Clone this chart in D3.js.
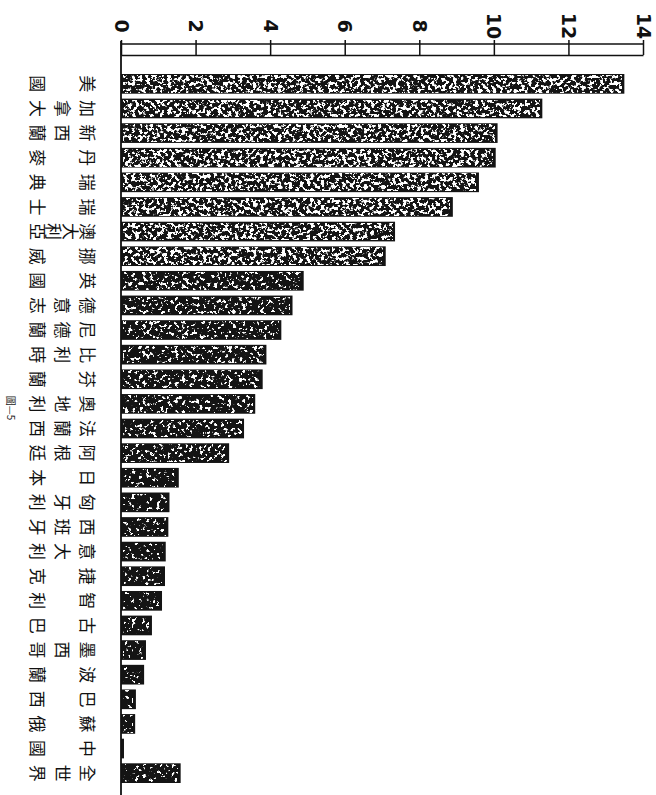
<!DOCTYPE html>
<html>
<head>
<meta charset="utf-8">
<script src="https://cdn.jsdelivr.net/npm/d3@7"></script>
<style>
  body { margin: 0; background: #fff; }
  svg { display: block; }
</style>
</head>
<body>
<svg id="chart"></svg>
<script>
// values (bars grow to the right, axis on top)
const categories = ["美國", "加拿大", "新西蘭", "丹麥", "瑞典", "瑞士", "澳大利亞", "挪威",
  "英國", "德意志", "尼德蘭", "比利時", "芬蘭", "奧地利", "法蘭西", "阿根廷",
  "日本", "匈牙利", "西班牙", "意大利", "捷克", "智利", "古巴", "墨西哥",
  "波蘭", "巴西", "蘇俄", "中國", "全世界"];
const values = [13.5, 11.3, 10.1, 10.05, 9.6, 8.9, 7.35, 7.1,
  4.9, 4.6, 4.3, 3.9, 3.8, 3.6, 3.3, 2.9,
  1.55, 1.3, 1.27, 1.2, 1.18, 1.1, 0.83, 0.67,
  0.62, 0.4, 0.38, 0.08, 1.6];
const tickValues = [0, 2, 4, 6, 8, 10, 12, 14];
const caption = "圖—5";

class RotatedBarChart {

  constructor(_config) {
    this.config = {
      parentElement: _config.parentElement,
      containerWidth: 656,
      containerHeight: 795,
      x0: 121, x1: 643,      // value axis extent
      y0: 74, y1: 783,       // first bar top / last bar bottom
      axisY: 55,             // lower ruler line
      topLineY: 44           // upper ruler line
    };
    this.initVis();
  }

  initVis() {
    let vis = this;
    const c = vis.config;

    vis.svg = d3.select(c.parentElement)
        .attr("width", c.containerWidth)
        .attr("height", c.containerHeight);

    vis.svg.append("rect")
        .attr("width", c.containerWidth)
        .attr("height", c.containerHeight)
        .attr("fill", "#fff");

    // speckle filters to imitate the printed texture of the bars
    const defs = vis.svg.append("defs");
    const speck = (id, slope, cut) => {
      const f = defs.append("filter").attr("id", id)
          .attr("x", 0).attr("y", 0).attr("width", "100%").attr("height", "100%");
      f.append("feTurbulence")
          .attr("type", "fractalNoise")
          .attr("baseFrequency", 0.28)
          .attr("numOctaves", 3)
          .attr("seed", 7);
      f.append("feColorMatrix")
          .attr("type", "matrix")
          .attr("values", `0 0 0 0 1  0 0 0 0 1  0 0 0 0 1  ${slope} 0 0 0 ${-cut}`);
    };
    speck("speckLight", 16, 8.3);
    speck("speckMid", 16, 9.3);
    speck("speckDark", 16, 9.9);

    vis.chart = vis.svg.append("g");
    vis.axisG = vis.svg.append("g").attr("transform", `translate(0,${c.axisY})`);
    vis.labels = vis.svg.append("g");
  }

  updateVis() {
    let vis = this;
    const c = vis.config;

    vis.xScale = d3.scaleLinear()
        .domain([0, 14])
        .range([c.x0, c.x1]);

    vis.yScale = d3.scaleBand()
        .domain(categories)
        .range([c.y0, c.y1])
        .paddingInner(0.2)
        .paddingOuter(0);

    vis.data = categories.map((name, i) => ({ name, value: values[i], i }));
    vis.renderVis();
  }

  renderVis() {
    let vis = this;
    const c = vis.config;
    const x = vis.xScale, y = vis.yScale;

    // ruler-style value axis along the top
    vis.axisG.call(d3.axisTop(x).tickValues(tickValues).tickSize(15).tickSizeOuter(0));
    vis.axisG.attr("font-family", "DejaVu Sans").attr("font-size", 19).attr("font-weight", "bold");
    vis.axisG.select(".domain").attr("stroke", "#111").attr("stroke-width", 1.6);
    vis.axisG.selectAll(".tick line").attr("stroke", "#111").attr("stroke-width", 1.5);
    vis.axisG.selectAll(".tick text")
        .attr("y", 0)
        .attr("dy", null)
        .attr("fill", "#111")
        .attr("text-anchor", "middle")
        .attr("dominant-baseline", "central")
        .attr("transform", "translate(0,-29) rotate(90)");

    vis.svg.append("line")
        .attr("x1", x(0)).attr("x2", x(14))
        .attr("y1", c.topLineY).attr("y2", c.topLineY)
        .attr("stroke", "#111").attr("stroke-width", 1.6);

    // vertical baseline down the left side
    vis.svg.append("line")
        .attr("x1", x(0)).attr("x2", x(0))
        .attr("y1", c.topLineY - 3).attr("y2", c.containerHeight)
        .attr("stroke", "#111").attr("stroke-width", 1.8);

    // bars
    vis.chart.selectAll("rect.bar")
        .data(vis.data)
        .join("rect")
        .attr("class", "bar")
        .attr("x", x(0))
        .attr("y", d => y(d.name))
        .attr("width", d => x(d.value) - x(0))
        .attr("height", y.bandwidth())
        .attr("fill", "#141414");

    vis.chart.selectAll("rect.speck")
        .data(vis.data)
        .join("rect")
        .attr("class", "speck")
        .attr("x", x(0) + 2)
        .attr("y", d => y(d.name) + 1.5)
        .attr("width", d => Math.max(0, x(d.value) - x(0) - 5))
        .attr("height", y.bandwidth() - 3)
        .attr("filter", d => d.i < 8 ? "url(#speckLight)" : d.i < 16 ? "url(#speckMid)" : "url(#speckDark)");

    // category names: vertical columns in the original, so each glyph is turned
    const chars = vis.data.flatMap(d => {
      const n = d.name.length;
      return Array.from(d.name).map((ch, k) => ({
        ch,
        cx: 88 - (n === 1 ? 0 : k * 50 / (n - 1)),
        cy: y(d.name) + y.bandwidth() / 2
      }));
    });

    vis.labels.selectAll("text")
        .data(chars)
        .join("text")
        .attr("transform", d => `translate(${d.cx},${d.cy}) rotate(90)`)
        .attr("text-anchor", "middle")
        .attr("dominant-baseline", "central")
        .attr("font-family", "Noto Sans CJK TC")
        .attr("font-size", 17)
        .attr("fill", "#111")
        .text(d => d.ch);

    // figure caption
    vis.svg.append("text")
        .attr("transform", "translate(11,408) rotate(90)")
        .attr("text-anchor", "middle")
        .attr("dominant-baseline", "central")
        .attr("font-family", "Noto Sans CJK TC")
        .attr("font-size", 10)
        .attr("fill", "#222")
        .text(caption);
  }
}

const chart = new RotatedBarChart({ parentElement: "#chart" });
chart.updateVis();
</script>
</body>
</html>
